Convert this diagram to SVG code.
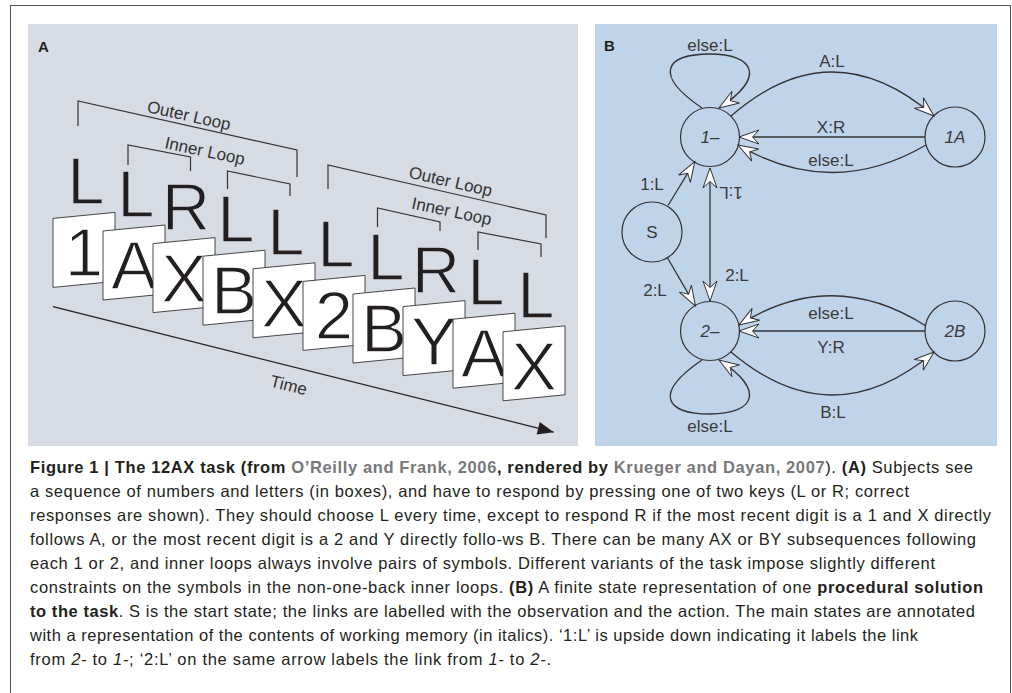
<svg xmlns="http://www.w3.org/2000/svg" width="1012" height="693" viewBox="0 0 1012 693">
<style>
.big{font-family:"Liberation Sans",Arial,sans-serif;font-size:69px;fill:#231f20;text-anchor:middle;stroke:#fff;stroke-width:1.3}
.resp{font-family:"Liberation Sans",Arial,sans-serif;font-size:67px;fill:#231f20;text-anchor:middle;stroke:#d7dbe4;stroke-width:1.3}
.card{fill:#fff;stroke:#333;stroke-width:0.9}
.br{fill:none;stroke:#333;stroke-width:1.2}
.lt{font-family:"Liberation Sans",Arial,sans-serif;font-size:17px;fill:#333;text-anchor:middle}
.node{fill:none;stroke:#333;stroke-width:1.2}
.nl{font-family:"Liberation Sans",Arial,sans-serif;font-size:17px;fill:#3a3a3a;text-anchor:middle}
.e{fill:none;stroke:#333;stroke-width:1.3}
.cap{font-family:"Liberation Sans",Arial,sans-serif;font-size:16.5px;fill:#231f20}
.b{font-weight:bold}
.g{fill:#77787b}
.panel{font-family:"Liberation Sans",Arial,sans-serif;font-size:15px;font-weight:bold;fill:#231f20}
</style>
<defs>
<marker id="oa" viewBox="-22 -8 24 16" refX="0" refY="0" markerWidth="24" markerHeight="16" markerUnits="userSpaceOnUse" orient="auto-start-reverse">
<path d="M0,0 L-20,-7 L-13.5,0 L-20,7 Z" fill="#fff" stroke="#333" stroke-width="1" stroke-linejoin="miter"/>
</marker>
<marker id="fa" viewBox="-17 -7 18 14" refX="0" refY="0" markerWidth="18" markerHeight="14" markerUnits="userSpaceOnUse" orient="auto">
<path d="M0,0 L-16,-6.5 L-16,6.5 Z" fill="#231f20"/>
</marker>
</defs>
<rect x="0" y="0" width="1012" height="693" fill="#fff"/>
<rect x="10.5" y="5.5" width="1000" height="700" fill="none" stroke="#555" stroke-width="1"/>
<rect x="28" y="24" width="550" height="422" fill="#d7dbe4"/>
<rect x="595" y="24" width="402" height="422" fill="#c0d4e9"/>
<text class="panel" x="38" y="52">A</text>
<text class="panel" x="604" y="51">B</text>

<g id="panelA">
<g id="brackets">
<path class="br" d="M78,126 L78,101 L297,150 L297,177"/>
<path class="br" d="M128,165 L128,145 L190.5,157 L190.5,171"/>
<path class="br" d="M227.5,189 L227.5,171 L290,184 L290,196"/>
<path class="br" d="M328,189 L328,165 L546,215 L546,238"/>
<path class="br" d="M377.5,227 L377.5,208 L440,222 L440,231"/>
<path class="br" d="M478,250 L478,232 L541,244 L541,257"/>
<text class="lt" transform="translate(189,115.3) rotate(12.6)" x="0" y="6">Outer Loop</text>
<text class="lt" transform="translate(205,150.7) rotate(12)" x="0" y="6">Inner Loop</text>
<text class="lt" transform="translate(450.7,181.2) rotate(13)" x="0" y="6">Outer Loop</text>
<text class="lt" transform="translate(451.8,211) rotate(12)" x="0" y="6">Inner Loop</text>
</g>
<g id="responses">
<text class="resp" x="86" y="204.4">L</text>
<text class="resp" x="136" y="217">L</text>
<text class="resp" x="186" y="229.6">R</text>
<text class="resp" x="236" y="242.2">L</text>
<text class="resp" x="286" y="254.8">L</text>
<text class="resp" x="336" y="267.4">L</text>
<text class="resp" x="386" y="280">L</text>
<text class="resp" x="436" y="292.6">R</text>
<text class="resp" x="486" y="305.2">L</text>
<text class="resp" x="536" y="317.8">L</text>
</g>
<g id="cards">
<g id="card1"><polygon class="card" points="53,218.4 115,212.4 115,281.4 53,287.4"/><text class="big" x="84" y="276.4">1</text></g>
<g id="card2"><polygon class="card" points="103,231 165,225 165,294 103,300"/><text class="big" x="134" y="289">A</text></g>
<g id="card3"><polygon class="card" points="153,243.6 215,237.6 215,306.6 153,312.6"/><text class="big" x="184" y="301.6">X</text></g>
<g id="card4"><polygon class="card" points="203,256.2 265,250.2 265,319.2 203,325.2"/><text class="big" x="234" y="314.2">B</text></g>
<g id="card5"><polygon class="card" points="253,268.8 315,262.8 315,331.8 253,337.8"/><text class="big" x="284" y="326.8">X</text></g>
<g id="card6"><polygon class="card" points="303,281.4 365,275.4 365,344.4 303,350.4"/><text class="big" x="334" y="339.4">2</text></g>
<g id="card7"><polygon class="card" points="353,294 415,288 415,357 353,363"/><text class="big" x="384" y="352">B</text></g>
<g id="card8"><polygon class="card" points="403,306.6 465,300.6 465,369.6 403,375.6"/><text class="big" x="434" y="364.6">Y</text></g>
<g id="card9"><polygon class="card" points="453,319.2 515,313.2 515,382.2 453,388.2"/><text class="big" x="484" y="377.2">A</text></g>
<g id="card10"><polygon class="card" points="503,331.8 565,325.8 565,394.8 503,400.8"/><text class="big" x="534" y="389.8">X</text></g>
</g>
<g id="time">
<line x1="53" y1="306.6" x2="553.7" y2="432.2" stroke="#231f20" stroke-width="1.2" marker-end="url(#fa)"/>
<text class="lt" transform="translate(288.8,385) rotate(14.1)" x="0" y="6">Time</text>
</g>
</g>

<g id="connectors">
<path class="e" d="M702,108 C652,74 666,54 710,54 C754,54 767,77 719,108" marker-end="url(#oa)"/>
<path class="e" d="M731,116 Q832,28 934,116" marker-end="url(#oa)"/>
<path class="e" d="M925,137 L739,137" marker-end="url(#oa)"/>
<path class="e" d="M926,145 Q832,200 738,145" marker-end="url(#oa)"/>
<path class="e" d="M668,205.5 L694.8,161.7" marker-end="url(#oa)"/>
<path class="e" d="M710,301 L710,168" marker-start="url(#oa)" marker-end="url(#oa)"/>
<path class="e" d="M667,257 L695.4,305.9" marker-end="url(#oa)"/>
<path class="e" d="M926,326 Q832,266 739,325" marker-end="url(#oa)"/>
<path class="e" d="M925,331 L739,331" marker-end="url(#oa)"/>
<path class="e" d="M731,352 Q832,438 934,352" marker-end="url(#oa)"/>
<path class="e" d="M702,360 C652,394 666,414 710,414 C754,414 767,391 719,360" marker-end="url(#oa)"/>
<text class="nl" x="710" y="51">else:L</text>
<text class="nl" x="832" y="67">A:L</text>
<text class="nl" x="831" y="133">X:R</text>
<text class="nl" x="831" y="166">else:L</text>
<text class="nl" x="652" y="190">1:L</text>
<text class="nl" transform="rotate(180 731 193)" x="731" y="199">1:L</text>
<text class="nl" x="737" y="281">2:L</text>
<text class="nl" x="655" y="296">2:L</text>
<text class="nl" x="831" y="319">else:L</text>
<text class="nl" x="831" y="353">Y:R</text>
<text class="nl" x="833" y="418">B:L</text>
<text class="nl" x="710" y="432">else:L</text>
</g>

<g id="n1"><circle class="node" cx="710" cy="137" r="29.5"/><text class="nl" x="710" y="143" font-style="italic">1–</text></g>
<g id="n1A"><circle class="node" cx="955" cy="137" r="30"/><text class="nl" x="955" y="143" font-style="italic">1A</text></g>
<g id="nS"><circle class="node" cx="652" cy="232" r="30"/><text class="nl" x="652" y="238">S</text></g>
<g id="n2"><circle class="node" cx="710" cy="331" r="29.5"/><text class="nl" x="710" y="337" font-style="italic">2–</text></g>
<g id="n2B"><circle class="node" cx="955" cy="331" r="30"/><text class="nl" x="955" y="337" font-style="italic">2B</text></g>

<g id="caption">
<text class="cap" x="30" y="473" textLength="943"><tspan class="b">Figure 1 | The 12AX task (from </tspan><tspan class="b g">O’Reilly and Frank, 2006</tspan><tspan class="b">, rendered by </tspan><tspan class="b g">Krueger and Dayan, 2007</tspan>). <tspan class="b">(A)</tspan> Subjects see</text>
<text class="cap" x="30" y="497" textLength="879">a sequence of numbers and letters (in boxes), and have to respond by pressing one of two keys (L or R; correct</text>
<text class="cap" x="30" y="521" textLength="961">responses are shown). They should choose L every time, except to respond R if the most recent digit is a 1 and X directly</text>
<text class="cap" x="30" y="545" textLength="946">follows A, or the most recent digit is a 2 and Y directly follo-ws B. There can be many AX or BY subsequences following</text>
<text class="cap" x="30" y="569" textLength="905">each 1 or 2, and inner loops always involve pairs of symbols. Different variants of the task impose slightly different</text>
<text class="cap" x="30" y="593" textLength="953">constraints on the symbols in the non-one-back inner loops. <tspan class="b">(B)</tspan> A finite state representation of one <tspan class="b">procedural solution</tspan></text>
<text class="cap" x="30" y="617" textLength="945"><tspan class="b">to the task</tspan>. S is the start state; the links are labelled with the observation and the action. The main states are annotated</text>
<text class="cap" x="30" y="641" textLength="888">with a representation of the contents of working memory (in italics). ‘1:L’ is upside down indicating it labels the link</text>
<text class="cap" x="30" y="665" textLength="521">from <tspan font-style="italic">2-</tspan> to <tspan font-style="italic">1-</tspan>; ‘2:L’ on the same arrow labels the link from <tspan font-style="italic">1-</tspan> to <tspan font-style="italic">2-</tspan>.</text>
</g>
</svg>
